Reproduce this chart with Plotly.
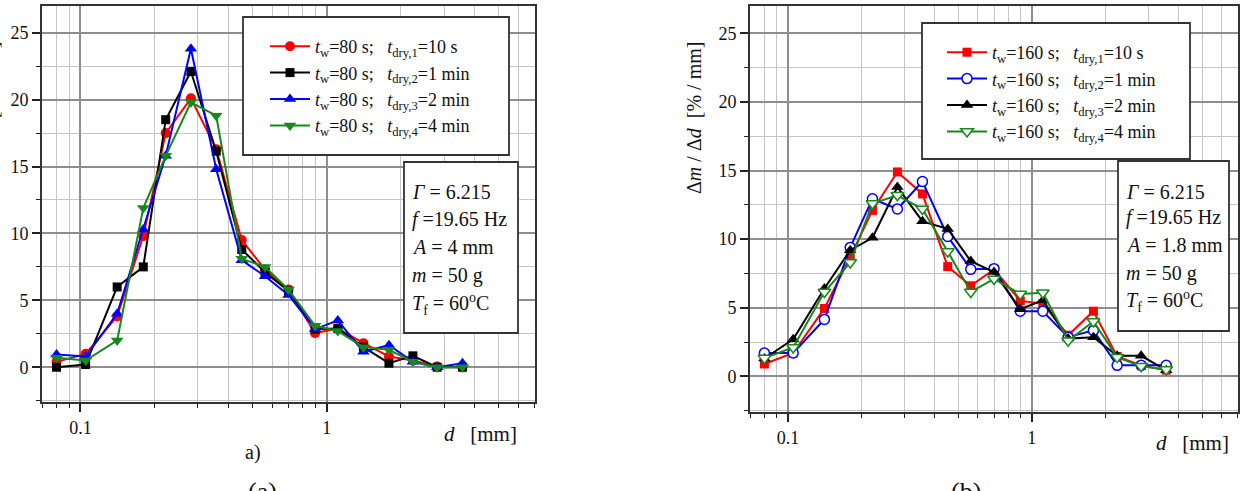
import plotly.graph_objects as go

W, H = 1245, 491

# ---------------- data ----------------
d_mm = [0.08, 0.105, 0.141, 0.18, 0.222, 0.281, 0.356, 0.452, 0.562, 0.70,
        0.897, 1.11, 1.41, 1.79, 2.24, 2.81, 3.56]

# panel (a): t_w = 80 s
a_10s  = [0.4, 1.0, 3.8, 9.8, 17.5, 20.1, 16.3, 9.5, 7.3, 5.8, 2.55, 2.9, 1.8, 0.8, 0.5, 0.05, 0.0]
a_1min = [0.0, 0.2, 6.0, 7.5, 18.5, 22.1, 16.15, 8.8, 7.1, 5.7, 2.85, 2.9, 1.5, 0.3, 0.85, 0.0, 0.0]
a_2min = [0.95, 0.8, 4.0, 10.3, 15.8, 23.8, 14.8, 8.0, 6.8, 5.4, 2.85, 3.5, 1.15, 1.65, 0.4, 0.0, 0.3]
a_4min = [0.7, 0.5, 2.0, 11.9, 15.8, 19.8, 18.8, 8.1, 7.5, 5.8, 3.1, 2.7, 1.5, 1.3, 0.4, 0.0, 0.0]

# panel (b): t_w = 160 s
b_10s  = [0.9, 1.7, 4.95, 8.7, 12.1, 14.9, 13.3, 8.0, 6.6, 7.8, 5.5, 5.3, 3.0, 4.75, 1.45, 0.8, 0.45]
b_1min = [1.7, 1.7, 4.15, 9.4, 12.95, 12.2, 14.2, 10.2, 7.8, 7.85, 4.75, 4.75, 2.85, 3.35, 0.8, 0.8, 0.8]
b_2min = [1.3, 2.7, 6.4, 9.2, 10.1, 13.8, 11.3, 10.75, 8.4, 7.6, 4.9, 5.55, 2.75, 2.85, 1.5, 1.5, 0.45]
b_4min = [1.33, 2.1, 6.15, 8.3, 12.6, 13.2, 12.2, 9.1, 6.15, 7.1, 6.0, 6.1, 2.6, 4.0, 1.4, 0.73, 0.5]

x_major_ticks = [0.1, 1]
x_major_text = ["0.1", "1"]
x_minor_ticks = [0.07, 0.08, 0.09, 0.2, 0.3, 0.4, 0.5, 0.6, 0.7, 0.8, 0.9,
                 2, 3, 4, 5, 6, 7]

labels_a = ["10 s", "1 min", "2 min", "4 min"]
labels_b = ["10 s", "1 min", "2 min", "4 min"]
params_a = ["<i>Γ</i> = 6.215", "<i>f</i> =19.65 Hz", "<i>A</i> = 4 mm",
            "<i>m</i> = 50 g", "<i>T</i><sub>f</sub> = 60<sup>o</sup>C"]
params_b = ["<i>Γ</i> = 6.215", "<i>f</i> =19.65 Hz", "<i>A</i> = 1.8 mm",
            "<i>m</i> = 50 g", "<i>T</i><sub>f</sub> = 60<sup>o</sup>C"]

FONT = "Liberation Serif"
NB = "\u00a0"

def px(x):
    return x / W

def py(y):
    return 1 - y / H

RED, BLACK, BLUE, GREEN = "#ff0000", "#000000", "#0000ff", "#15891a"

fig = go.Figure()

def leg_name(tw, i, lab):
    return (f"<i>t</i><sub>w</sub>={tw} s;{NB*3}<i>t</i><sub>dry,{i}</sub>={lab}")

# panel (a)
specs_a = [
    (a_10s, RED, dict(symbol="circle", size=10, color=RED)),
    (a_1min, BLACK, dict(symbol="square", size=9, color=BLACK)),
    (a_2min, BLUE, dict(symbol="triangle-up", size=11, color=BLUE)),
    (a_4min, GREEN, dict(symbol="triangle-down", size=11, color=GREEN)),
]
for i, (vals, col, mk) in enumerate(specs_a):
    fig.add_trace(go.Scatter(
        x=d_mm, y=vals, mode="lines+markers", xaxis="x", yaxis="y",
        line=dict(color=col, width=2), marker=mk,
        name=leg_name(80, i + 1, labels_a[i]), legend="legend",
        legendgroup=f"a{i}"))

specs_b = [
    (b_10s, RED, dict(symbol="square", size=9, color=RED)),
    (b_1min, BLUE, dict(symbol="circle", size=10, color="white",
                        line=dict(color=BLUE, width=1.5))),
    (b_2min, BLACK, dict(symbol="triangle-up", size=11, color=BLACK)),
    (b_4min, GREEN, dict(symbol="triangle-down", size=11, color="white",
                         line=dict(color=GREEN, width=1.5))),
]
for i, (vals, col, mk) in enumerate(specs_b):
    fig.add_trace(go.Scatter(
        x=d_mm, y=vals, mode="lines+markers", xaxis="x2", yaxis="y2",
        line=dict(color=col, width=2), marker=mk,
        name=leg_name(160, i + 1, labels_b[i]), legend="legend2",
        legendgroup=f"b{i}"))

def xaxis(domain, anchor):
    return dict(
        domain=domain, anchor=anchor, type="log", range=[-1.156, 0.846],
        tickmode="array", tickvals=x_major_ticks, ticktext=x_major_text,
        ticks="outside", ticklen=8, tickwidth=1.5, tickcolor="#222",
        showline=True, linecolor="#333", linewidth=2, mirror=True,
        showgrid=True, gridcolor="#8e8e8e", gridwidth=1.5, zeroline=False,
        tickfont=dict(family=FONT, size=18, color="#111"),
        minor=dict(tickmode="array", tickvals=x_minor_ticks, ticks="outside",
                   ticklen=4, tickwidth=1.2, tickcolor="#222", showgrid=True,
                   gridcolor="#c6c6c6", gridwidth=1.3),
    )

def yaxis(domain, anchor):
    return dict(
        domain=domain, anchor=anchor, range=[-2.6, 27], tick0=0, dtick=5,
        ticks="outside", ticklen=8, tickwidth=1.5, tickcolor="#222",
        showline=True, linecolor="#333", linewidth=2, mirror=True,
        showgrid=True, gridcolor="#8e8e8e", gridwidth=1.5, zeroline=False,
        tickfont=dict(family=FONT, size=18, color="#111"),
        minor=dict(dtick=2.5, ticks="outside", ticklen=4, tickwidth=1.2,
                   tickcolor="#222", showgrid=True, gridcolor="#c6c6c6",
                   gridwidth=1.3),
    )

shapes = []
annotations = []

def box(x0, y0, x1, y1):
    shapes.append(dict(type="rect", xref="paper", yref="paper",
                       x0=px(x0), x1=px(x1), y0=py(y1), y1=py(y0),
                       fillcolor="white", line=dict(color="#333", width=1.8),
                       layer="above"))

def text(x, y, s, size=20, xanchor="left", yanchor="middle", angle=0):
    annotations.append(dict(xref="paper", yref="paper", x=px(x), y=py(y),
                            text=s, showarrow=False, xanchor=xanchor,
                            yanchor=yanchor, textangle=angle,
                            font=dict(family=FONT, size=size, color="#111")))

# legend boxes
box(243, 17, 509, 155)
box(922, 23, 1190, 159)
# parameter boxes
box(404, 162, 518, 333)
box(1118, 161, 1229, 331)

for s, y in zip(params_a, [192, 219, 247, 275, 304]):
    text(410, y, s)
for s, y in zip(params_b, [192, 218, 245, 273, 301]):
    text(1124, y, s)

text(480, 434, "<i>d</i>" + NB * 3 + "[mm]", size=21, xanchor="center")
text(1192, 443, "<i>d</i>" + NB * 3 + "[mm]", size=21, xanchor="center")
text(253, 452, "a)", size=20, xanchor="center")
text(262, 475, "(a)", size=26, xanchor="center", yanchor="top")
text(966, 475, "(b)", size=26, xanchor="center", yanchor="top")

ytitle = "Δ<i>m</i> / Δ<i>d</i>" + NB * 2 + "[% / mm]"
text(694, 118, ytitle, size=20, xanchor="center", angle=-90)
text(-9, 118, ytitle, size=20, xanchor="center", angle=-90)

legend_common = dict(
    bgcolor="rgba(0,0,0,0)", borderwidth=0, xanchor="left", yanchor="top",
    font=dict(family=FONT, size=18, color="#111"), tracegroupgap=0,
    itemwidth=40, traceorder="normal", itemclick=False,
)

fig.update_layout(
    width=W, height=H, margin=dict(l=0, r=0, t=0, b=0),
    paper_bgcolor="white", plot_bgcolor="white",
    xaxis=xaxis([px(42), px(535)], "y"),
    yaxis=yaxis([py(402), py(6)], "x"),
    xaxis2=xaxis([px(750), px(1238)], "y2"),
    yaxis2=yaxis([py(412), py(6)], "x2"),
    legend=dict(x=px(265), y=py(28), **legend_common),
    legend2=dict(x=px(942), y=py(34), **legend_common),
    shapes=shapes, annotations=annotations, showlegend=True,
)

fig.write_html("out.html")
